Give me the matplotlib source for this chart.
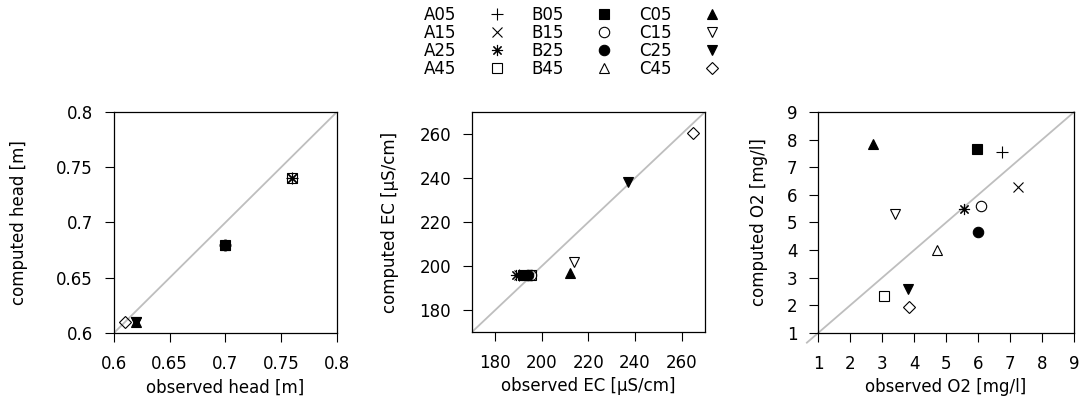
import matplotlib
matplotlib.use("Agg")
import matplotlib.pyplot as plt

# sample names and observed / computed values per variable
names = ['A05', 'A15', 'A25', 'A45', 'B05', 'B15', 'B25', 'B45',
         'C05', 'C15', 'C25', 'C45']

head_obs = [0.76, 0.76, 0.76, 0.76, 0.70, 0.70, 0.70, 0.70, 0.62, 0.62, 0.62, 0.61]
head_cmp = [0.74, 0.74, 0.74, 0.74, 0.68, 0.68, 0.68, 0.68, 0.61, 0.61, 0.61, 0.61]

ec_obs = [190, 190, 189, 195.5, 192, 195.5, 194, 193, 212, 214, 237, 265]
ec_cmp = [196, 196, 196, 196, 196, 196, 196, 196, 197, 202, 238, 260.5]

o2_obs = [6.75, 7.25, 5.55, 3.05, 5.95, 6.1, 6.0, 4.7, 2.7, 3.4, 3.8, 3.85]
o2_cmp = [7.55, 6.3, 5.5, 2.35, 7.65, 5.6, 4.65, 4.0, 7.85, 5.3, 2.6, 1.95]

# marker style per sample (R pch look-alikes)
styles = {
    'A05': dict(marker='+', mfc='black', ms=8.5),
    'A15': dict(marker='x', mfc='black', ms=7),
    'A25': dict(marker=(8, 2, 0), mfc='black', ms=8),
    'A45': dict(marker='s', mfc='none', ms=7),
    'B05': dict(marker='s', mfc='black', ms=7),
    'B15': dict(marker='o', mfc='none', ms=7.5),
    'B25': dict(marker='o', mfc='black', ms=7.5),
    'B45': dict(marker='^', mfc='none', ms=7.5),
    'C05': dict(marker='^', mfc='black', ms=7.5),
    'C15': dict(marker='v', mfc='none', ms=7.5),
    'C25': dict(marker='v', mfc='black', ms=7.5),
    'C45': dict(marker='D', mfc='none', ms=6),
}

plt.rcParams['font.size'] = 12
plt.rcParams['axes.linewidth'] = 0.9

fig = plt.figure(figsize=(10.85, 4.05), dpi=100)

panels = [
    dict(rect=[0.105, 0.1778, 0.2055, 0.5457], obs=head_obs, cmp=head_cmp,
         lim=(0.6, 0.8), ticks=[0.6, 0.65, 0.7, 0.75, 0.8],
         xl='observed head [m]', yl='computed head [m]', ylx=-0.385,
         diag=(0.6, 0.8)),
    dict(rect=[0.435, 0.1802, 0.2147, 0.5432], obs=ec_obs, cmp=ec_cmp,
         lim=(170, 270), ticks=[180, 200, 220, 240, 260],
         xl='observed EC [µS/cm]', yl='computed EC [µS/cm]', ylx=-0.315,
         diag=(170, 270)),
    dict(rect=[0.754, 0.1778, 0.236, 0.5457], obs=o2_obs, cmp=o2_cmp,
         lim=(1, 9), ticks=list(range(1, 10)),
         xl='observed O2 [mg/l]', yl='computed O2 [mg/l]', ylx=-0.195,
         diag=(0.65, 9)),
]

handles = []
for i, p in enumerate(panels):
    ax = fig.add_axes(p['rect'])
    d0, d1 = p['diag']
    ax.plot([d0, d1], [d0, d1], color='#BEBEBE', lw=1.3, zorder=1,
            clip_on=(i != 2))
    for n, x, y in zip(names, p['obs'], p['cmp']):
        h, = ax.plot([x], [y], ls='none', color='black', mec='black',
                     mew=0.8, label=n, zorder=3, **styles[n])
        if i == 0:
            handles.append(h)
    ax.set_xlim(p['lim'])
    ax.set_ylim(p['lim'])
    ax.set_xticks(p['ticks'])
    ax.set_yticks(p['ticks'])
    ax.set_xticklabels([f'{t:g}' for t in p['ticks']])
    ax.set_yticklabels([f'{t:g}' for t in p['ticks']])
    ax.tick_params(direction='out', length=6.5, width=0.8)
    ax.tick_params(axis='x', pad=9.5)
    ax.tick_params(axis='y', pad=8.5)
    ax.set_xlabel(p['xl'])
    ax.set_ylabel(p['yl'])
    ax.xaxis.set_label_coords(0.5, -0.205)
    ax.yaxis.set_label_coords(p['ylx'], 0.5)

fig.legend(handles, names, ncol=3, markerfirst=False, frameon=False,
           loc='upper center', bbox_to_anchor=(572 / 1085, 1 - 6 / 405),
           fontsize=12, handlelength=1.0, handletextpad=1.9,
           columnspacing=1.6, labelspacing=0.0, borderpad=0.0,
           borderaxespad=0.0)

fig.savefig('out.png', dpi=100)
